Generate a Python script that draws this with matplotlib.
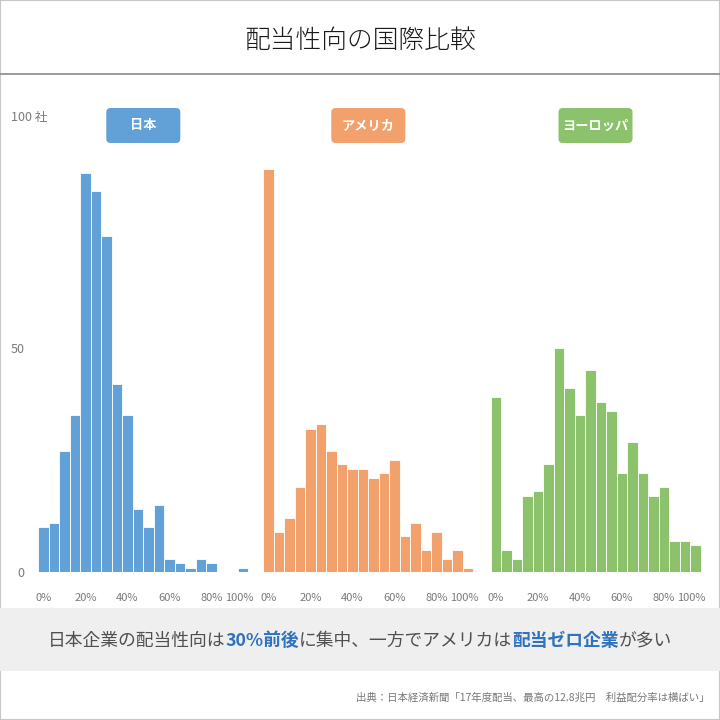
import matplotlib
matplotlib.use("Agg")
import matplotlib.pyplot as plt
from matplotlib.patches import Rectangle, FancyBboxPatch
from matplotlib.lines import Line2D

plt.rcParams['font.family'] = ['Noto Sans CJK JP', 'DejaVu Sans']

# ---- data ----
bins = [0, 5, 10, 15, 20, 25, 30, 35, 40, 45, 50, 55, 60, 65, 70, 75, 80, 85, 90, 95]
japan = [10, 11, 27, 35, 89, 85, 75, 42, 35, 14, 10, 15, 3, 2, 1, 3, 2, 0, 0, 1]
usa = [90, 9, 12, 19, 32, 33, 27, 24, 23, 23, 21, 22, 25, 8, 11, 5, 9, 3, 5, 1]
europe = [39, 5, 3, 17, 18, 24, 50, 41, 35, 45, 38, 36, 22, 29, 22, 17, 19, 7, 7, 6]
regions = ["日本", "アメリカ", "ヨーロッパ"]
colors = ["#62a0d8", "#f2a06c", "#8cc26c"]
xtick_vals = [0, 20, 40, 60, 80, 100]
xtick_labels = ["0%", "20%", "40%", "60%", "80%", "100%"]
ytick_vals = [0, 50]
ytick_labels = ["0", "50"]
title = "配当性向の国際比較"
source = "出典：日本経済新聞「17年度配当、最高の12.8兆円　利益配分率は横ばい」"
banner_parts = [("日本企業の配当性向は", False), ("30%前後", True),
                ("に集中、一方でアメリカは", False), ("配当ゼロ企業", True),
                ("が多い", False)]

W = H = 720.0
fig = plt.figure(figsize=(7.2, 7.2), dpi=100)
fig.patch.set_facecolor("white")


def fx(px):
    return px / W


def fy(py):
    return 1 - py / H


# border
fig.add_artist(Rectangle((0, 0), 1, 1, transform=fig.transFigure, fill=False,
                         edgecolor="#c8c8c8", linewidth=1.5))
# title
fig.text(0.5, fy(41), title, ha="center", va="center", fontsize=18.5,
         color="#1a1a1a", fontweight="light")
fig.add_artist(Line2D([0, 1], [fy(74), fy(74)], transform=fig.transFigure,
                      color="#8a8a8a", linewidth=1.2))

# panels
lefts = [38.3, 263.3, 490.5]
series = [japan, usa, europe]
pxu_x = 2.1
pxu_y = 4.48
xlim = (-2.5, 102)
base_y = 572
for i in range(3):
    w = (xlim[1] - xlim[0]) * pxu_x
    h = 100 * pxu_y
    ax = fig.add_axes([fx(lefts[i]), fy(base_y), fx(w), h / H])
    ax.bar(bins, series[i], width=5, align="center", color=colors[i],
           edgecolor="white", linewidth=0.6)
    ax.set_xlim(*xlim)
    ax.set_ylim(0, 100)
    for s in ax.spines.values():
        s.set_visible(False)
    ax.set_xticks(xtick_vals)
    ax.set_xticklabels(xtick_labels, fontsize=8, color="#7a7a7a")
    ax.get_xticklabels()[-1].set_ha("right")
    ax.tick_params(axis="x", length=0, pad=15)
    if i == 0:
        ax.set_yticks(ytick_vals)
        ax.set_yticklabels(ytick_labels, fontsize=9, color="#7a7a7a")
        ax.tick_params(axis="y", length=0, pad=10)
    else:
        ax.set_yticks([])
    ax.patch.set_alpha(0)

    # region label box
    cx = lefts[i] + 105
    bw, bh = 74, 35
    fig.add_artist(FancyBboxPatch((fx(cx - bw / 2), fy(143)), fx(bw), bh / H,
                                  boxstyle="round,pad=0,rounding_size=0.006",
                                  transform=fig.transFigure, facecolor=colors[i],
                                  edgecolor="none"))
    fig.text(fx(cx), fy(125.5), regions[i], ha="center", va="center",
             fontsize=9.5, color="white", fontweight="bold")

fig.text(fx(11), fy(118), "100 社", ha="left", va="center", fontsize=9,
         color="#7a7a7a")

# banner
fig.add_artist(Rectangle((0, fy(671)), 1, (671 - 608) / H,
                         transform=fig.transFigure, facecolor="#efefef",
                         edgecolor="none"))
renderer = fig.canvas.get_renderer()
objs = []
widths = []
for txt, bold in banner_parts:
    t = fig.text(0, fy(641), txt, ha="left", va="center", fontsize=12.8,
                 color="#2f72bd" if bold else "#505050",
                 fontweight="bold" if bold else "normal")
    objs.append(t)
    widths.append(t.get_window_extent(renderer).width)
total = sum(widths)
x0 = (W - total) / 2
for t, wdt in zip(objs, widths):
    t.set_x(fx(x0))
    x0 += wdt

fig.text(fx(709), fy(698), source, ha="right", va="center", fontsize=7.5,
         color="#777777")

fig.savefig("out.png", dpi=100)
